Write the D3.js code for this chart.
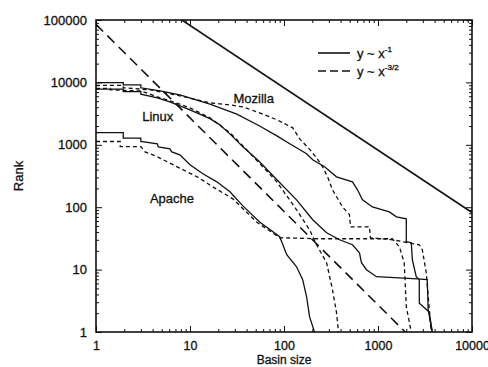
<!DOCTYPE html>
<html>
<head>
<meta charset="utf-8">
<script src="https://cdn.jsdelivr.net/npm/d3@7"></script>
<style>
  body { margin: 0; background: #fff; }
  text { font-family: "Liberation Sans", Arial, sans-serif; fill: #111; stroke: #111; stroke-width: 0.3; }
</style>
</head>
<body>
<svg id="chart" width="488" height="367"></svg>
<script>
// tick values / labels
const xDecades = [1, 10, 100, 1000, 10000]
const yDecades = [1, 10, 100, 1000, 10000, 100000]
const xTickLabels = ['1', '10', '100', '1000', '10000']
const yTickLabels = ['1', '10', '100', '1000', '10000', '100000']

// [basin size, rank]
const mozillaSolid = [
  [1, 9900], [1.95, 9900], [1.95, 9100], [3, 9100], [3, 8200], [4.8, 7300], [7.8, 6300],
  [16.3, 4500], [31.5, 3100], [55, 2000], [84, 1390], [115, 1040], [174, 717], [202, 575],
  [270, 444], [362, 307], [535, 255], [605, 190], [684, 131], [873, 101], [1320, 84],
  [1570, 70], [2000, 65], [2000, 28], [2260, 27], [2320, 14.4], [2550, 7.7], [2750, 6.9],
  [2750, 2.9], [3500, 2.1], [3780, 1]
]
const mozillaDashed = [
  [1, 8950], [1.95, 8950], [1.95, 8200], [3.8, 7600], [7.8, 6100], [16.3, 4700], [26.6, 4360],
  [36.5, 4050], [55, 3250], [84, 2520], [124, 1870], [147, 1240], [187, 850], [230, 575],
  [257, 444], [291, 307], [328, 190], [419, 101], [497, 76], [510, 48.5], [811, 48.5],
  [830, 32.4], [1420, 30.1], [2750, 25], [2960, 20.8], [3260, 8.9], [3680, 1]
]
const linuxSolid = [
  [1, 7780], [1.95, 7780], [1.95, 7120], [3, 7120], [3, 6470], [4.5, 5650], [6.1, 4880],
  [10, 3630], [16.3, 2620], [20.8, 2090], [27.9, 1390], [36.5, 927], [55, 534], [84, 275],
  [136, 131], [202, 63], [284, 38.9], [390, 30.1], [535, 25], [635, 18.6], [667, 12.9],
  [754, 9.95], [962, 7.7], [2620, 7.1], [3340, 6.9], [3420, 2.28], [3780, 1]
]
const linuxDashed = [
  [1, 8000], [1.42, 8000], [1.42, 7600], [3, 7300], [4.5, 5860], [6.1, 5070], [10, 3910],
  [16.3, 2700], [26.6, 1560], [40.2, 830], [84, 255], [136, 91], [187, 43.5], [222, 25],
  [284, 12.9], [328, 4.75], [362, 2.04], [380, 1]
]
const apacheSolid = [
  [1, 1570], [1.95, 1570], [1.95, 1280], [3, 1280], [3, 1130], [4.5, 1040], [4.6, 927],
  [6.1, 861], [6.4, 771], [7.8, 691], [10, 478], [13.7, 343], [19.3, 255], [26.6, 177],
  [36.5, 105], [55, 58], [90, 33.6], [107, 17.3], [136, 11.1], [158, 6.9], [174, 3.67],
  [187, 1.76], [211, 1]
]
const apacheDashed = [
  [1, 1130], [1.81, 1130], [1.81, 937], [3, 937], [3.33, 771], [4.5, 642], [7.3, 444],
  [11.9, 307], [17.5, 212], [28.6, 136], [51, 58], [90, 32.4], [239, 31.2], [1420, 31.2],
  [1690, 23.2], [1900, 12.9], [2000, 2.54], [2260, 1]
]
// reference power laws
const refInverse = [[8.2, 100000], [10000, 82]]
const refInverse32 = [[1, 85000], [1950, 1]]

const labels = [
  { name: 'Mozilla', at: [29, 4600] },
  { name: 'Linux', at: [3.1, 2400] },
  { name: 'Apache', at: [3.75, 115] }
]

const margin = { top: 20, right: 16, bottom: 35, left: 96 }
const width = 488
const height = 367
const svg = d3.select('#chart')

const x = d3.scaleLog()
  .domain([1, 10000])
  .range([margin.left, width - margin.right])
const y = d3.scaleLog()
  .domain([1, 100000])
  .range([height - margin.bottom, margin.top])

const xMinor = x.ticks().filter(v => !xDecades.includes(v))
const yMinor = y.ticks().filter(v => !yDecades.includes(v))

const plotW = x.range()[1] - x.range()[0]
const plotH = y.range()[0] - y.range()[1]

svg.append('defs').append('clipPath').attr('id', 'clip')
  .append('rect')
  .attr('x', margin.left).attr('y', margin.top)
  .attr('width', plotW).attr('height', plotH)

function styleAxis(g, size = 13) {
  g.select('.domain').remove()
  g.selectAll('line').attr('stroke', '#111').attr('stroke-width', 1)
  g.selectAll('text').attr('font-size', size).attr('fill', '#111')
}

// bottom axis
svg.append('g')
  .attr('transform', `translate(0,${y.range()[0]})`)
  .call(d3.axisBottom(x).tickValues(xDecades).tickSize(-6).tickPadding(9)
    .tickFormat((d, i) => xTickLabels[i]))
  .call(styleAxis, 12.5)
svg.append('g')
  .attr('transform', `translate(0,${y.range()[0]})`)
  .call(d3.axisBottom(x).tickValues(xMinor).tickSize(-3).tickFormat(''))
  .call(styleAxis)
// top axis
svg.append('g')
  .attr('transform', `translate(0,${y.range()[1]})`)
  .call(d3.axisTop(x).tickValues(xDecades).tickSize(-6).tickFormat(''))
  .call(styleAxis)
svg.append('g')
  .attr('transform', `translate(0,${y.range()[1]})`)
  .call(d3.axisTop(x).tickValues(xMinor).tickSize(-3).tickFormat(''))
  .call(styleAxis)
// left axis
svg.append('g')
  .attr('transform', `translate(${x.range()[0]},0)`)
  .call(d3.axisLeft(y).tickValues(yDecades).tickSize(-6).tickPadding(9)
    .tickFormat((d, i) => yTickLabels[i]))
  .call(styleAxis)
svg.append('g')
  .attr('transform', `translate(${x.range()[0]},0)`)
  .call(d3.axisLeft(y).tickValues(yMinor).tickSize(-3).tickFormat(''))
  .call(styleAxis)
// right axis
svg.append('g')
  .attr('transform', `translate(${x.range()[1]},0)`)
  .call(d3.axisRight(y).tickValues(yDecades).tickSize(-6).tickFormat(''))
  .call(styleAxis)
svg.append('g')
  .attr('transform', `translate(${x.range()[1]},0)`)
  .call(d3.axisRight(y).tickValues(yMinor).tickSize(-3).tickFormat(''))
  .call(styleAxis)

// frame
svg.append('rect')
  .attr('x', margin.left).attr('y', margin.top)
  .attr('width', plotW).attr('height', plotH)
  .attr('fill', 'none').attr('stroke', '#111').attr('stroke-width', 1.6)

const line = d3.line()
  .x(d => x(d[0]))
  .y(d => y(d[1]))

const plot = svg.append('g').attr('clip-path', 'url(#clip)')

const series = [
  { data: refInverse, dash: null, w: 1.6 },
  { data: refInverse32, dash: '10,6', w: 1.6 },
  { data: mozillaSolid, dash: null, w: 1.3 },
  { data: mozillaDashed, dash: '4,3', w: 1.3 },
  { data: linuxSolid, dash: null, w: 1.3 },
  { data: linuxDashed, dash: '4,3', w: 1.3 },
  { data: apacheSolid, dash: null, w: 1.3 },
  { data: apacheDashed, dash: '4,3', w: 1.3 }
]

plot.selectAll('path.series')
  .data(series)
  .join('path')
  .attr('class', 'series')
  .attr('fill', 'none')
  .attr('stroke', '#111')
  .attr('stroke-width', d => d.w)
  .attr('stroke-dasharray', d => d.dash)
  .attr('d', d => line(d.data))

// project labels
svg.selectAll('text.proj')
  .data(labels)
  .join('text')
  .attr('class', 'proj')
  .attr('x', d => x(d.at[0]))
  .attr('y', d => y(d.at[1]))
  .attr('font-size', 13)
  .text(d => d.name)

// legend
const legend = svg.append('g').attr('transform', 'translate(318,53)')
legend.append('line').attr('x1', 0).attr('x2', 32).attr('y1', 0).attr('y2', 0)
  .attr('stroke', '#111').attr('stroke-width', 1.6)
legend.append('line').attr('x1', 0).attr('x2', 32).attr('y1', 18).attr('y2', 18)
  .attr('stroke', '#111').attr('stroke-width', 1.6).attr('stroke-dasharray', '8,4')
const t1 = legend.append('text').attr('x', 39).attr('y', 5).attr('font-size', 13)
t1.append('tspan').text('y ~ x')
t1.append('tspan').attr('dy', -6).attr('font-size', 8).text('-1')
const t2 = legend.append('text').attr('x', 39).attr('y', 23).attr('font-size', 13)
t2.append('tspan').text('y ~ x')
t2.append('tspan').attr('dy', -6).attr('font-size', 8).text('-3/2')

// axis titles
svg.append('text')
  .attr('x', (x.range()[0] + x.range()[1]) / 2)
  .attr('y', 364)
  .attr('text-anchor', 'middle')
  .attr('font-size', 12)
  .text('Basin size')
svg.append('text')
  .attr('transform', `translate(23,${(y.range()[0] + y.range()[1]) / 2}) rotate(-90)`)
  .attr('text-anchor', 'middle')
  .attr('font-size', 13)
  .text('Rank')
</script>
</body>
</html>
